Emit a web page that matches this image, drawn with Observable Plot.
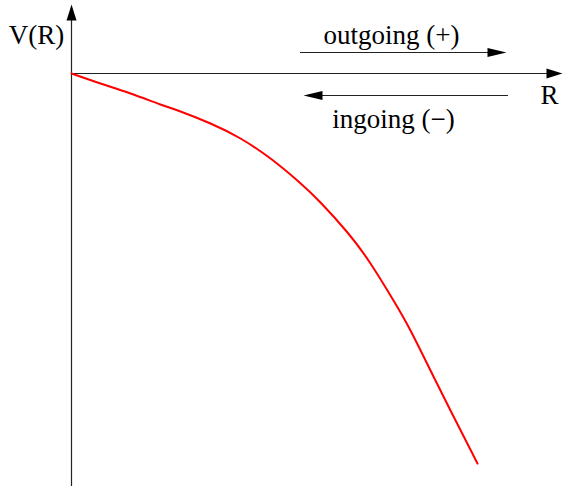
<!DOCTYPE html>
<html>
<head>
<meta charset="utf-8">
<script src="https://cdn.jsdelivr.net/npm/d3@7"></script>
<script src="https://cdn.jsdelivr.net/npm/@observablehq/plot@0.6"></script>
<style>
  html, body { margin: 0; padding: 0; background: #fff; }
  #chart svg { display: block; }
</style>
</head>
<body>
<div id="chart"></div>
<script>
// Potential curve V(R) (arbitrary units)
const curveR = [0, 0.29, 0.59, 0.89, 1.09, 1.39, 1.69, 1.99, 2.27, 2.49, 2.76, 2.99, 3.22, 3.39, 3.59, 3.79, 4.06];
const curveV = [0, -0.10, -0.20, -0.31, -0.38, -0.50, -0.65, -0.85, -1.08, -1.29, -1.59, -1.90, -2.27, -2.57, -2.97, -3.37, -3.90];

// Axes extents
const axisRMax = 4.91;
const axisVMin = -4.13, axisVMax = 0.69;

// Direction arrows (outgoing / ingoing)
const arrowNames = ["outgoing (+)", "ingoing (\u2212)"];
const arrowFrom = [2.29, 4.37];
const arrowTo = [4.35, 2.32];
const arrowV = [0.21, -0.22];
const labelR = [3.20, 3.22];
const labelV = [0.30, -0.545];

// Axis labels
const axisLabels = ["V(R)", "R"];
const axisLabelR = [-0.35, 4.78];
const axisLabelV = [0.30, -0.30];

const curve = curveR.map((r, i) => ({R: r, V: curveV[i]}));
const arrows = arrowNames.map((n, i) => ({name: n, from: arrowFrom[i], to: arrowTo[i], v: arrowV[i], lr: labelR[i], lv: labelV[i]}));
const axLabs = axisLabels.map((t, i) => ({t, R: axisLabelR[i], V: axisLabelV[i]}));

const head = (len, hw) => ({
  draw(ctx) {
    ctx.moveTo(0, -len);
    ctx.lineTo(hw, 0);
    ctx.lineTo(-hw, 0);
    ctx.closePath();
  }
});

const font = "'Liberation Serif', 'DejaVu Serif', 'Times New Roman', Times, serif";

const chart = Plot.plot({
  width: 563,
  height: 486,
  margin: 0,
  style: {background: "#fff"},
  x: {domain: [-0.71, 4.92], range: [0, 563], axis: null},
  y: {domain: [-4.13, 0.73], range: [486, 0], axis: null},
  marks: [
    // axes
    Plot.ruleX([0], {y1: axisVMin, y2: axisVMax - 0.1, stroke: "#222", strokeWidth: 1.2}),
    Plot.ruleY([0], {x1: 0, x2: axisRMax - 0.1, stroke: "#222", strokeWidth: 1.2}),
    Plot.vector([{R: 0, V: axisVMax}], {x: "R", y: "V", rotate: 0, length: 16, anchor: "end", shape: head(16, 5), fill: "black", stroke: "none"}),
    Plot.vector([{R: axisRMax, V: 0}], {x: "R", y: "V", rotate: 90, length: 16, anchor: "end", shape: head(16, 5), fill: "black", stroke: "none"}),
    // direction arrows
    Plot.ruleY(arrows, {y: "v", x1: "from", x2: (d) => d.to + (d.to > d.from ? -0.1 : 0.1), stroke: "#222", strokeWidth: 1}),
    Plot.vector(arrows, {x: "to", y: "v", rotate: (d) => d.to > d.from ? 90 : -90, length: 19, anchor: "end", shape: head(19, 4.5), fill: "black", stroke: "none"}),
    Plot.text(arrows, {x: "lr", y: "lv", text: "name", fontSize: 27, fontFamily: font, lineAnchor: "bottom", fill: "black"}),
    // axis labels
    Plot.text(axLabs, {x: "R", y: "V", text: "t", fontSize: 27, fontFamily: font, lineAnchor: "bottom", fill: "black"}),
    // potential curve
    Plot.line(curve, {x: "R", y: "V", stroke: "#ff0000", strokeWidth: 2, curve: "natural"})
  ]
});
document.getElementById("chart").appendChild(chart);
</script>
</body>
</html>
